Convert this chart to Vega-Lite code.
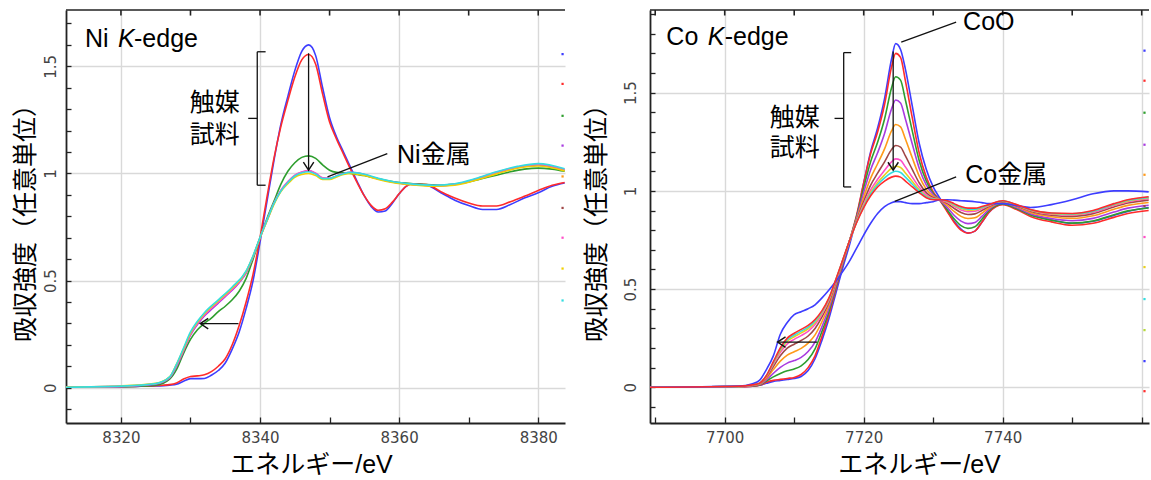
{
"$schema":"https://vega.github.io/schema/vega-lite/v6.json",
"padding":{"left":13,"top":9,"right":0,"bottom":0},
"spacing":18,
"config":{"view":{"stroke":null},
"axis":{"domainColor":"#222","domainWidth":1.8,"tickColor":"#222","tickWidth":1.3,"gridColor":"#d9d9d9","gridWidth":1.4,"labelFont":"DejaVu Sans","labelFontSize":15,"labelColor":"#444","labelOverlap":false,"titleFont":"Liberation Sans, Noto Sans CJK JP","titleFontSize":25,"titleFontWeight":"normal","titleColor":"#000"}},
"datasets":{
"ni":[
{"s":"n1","x":8312,"y":0.002},{"s":"n1","x":8318,"y":0.004},{"s":"n1","x":8322,"y":0.006},{"s":"n1","x":8325,"y":0.008},{"s":"n1","x":8327,"y":0.012},{"s":"n1","x":8328,"y":0.016},{"s":"n1","x":8329,"y":0.03},{"s":"n1","x":8330,"y":0.042},{"s":"n1","x":8331,"y":0.042},{"s":"n1","x":8332,"y":0.043},{"s":"n1","x":8333,"y":0.058},{"s":"n1","x":8334,"y":0.08},{"s":"n1","x":8335,"y":0.115},{"s":"n1","x":8336,"y":0.18},{"s":"n1","x":8337,"y":0.26},{"s":"n1","x":8338,"y":0.37},{"s":"n1","x":8339,"y":0.5},{"s":"n1","x":8340,"y":0.68},{"s":"n1","x":8341,"y":0.87},{"s":"n1","x":8342,"y":1.06},{"s":"n1","x":8343,"y":1.23},{"s":"n1","x":8344,"y":1.36},{"s":"n1","x":8345,"y":1.48},{"s":"n1","x":8346,"y":1.57},{"s":"n1","x":8347,"y":1.6},{"s":"n1","x":8348,"y":1.55},{"s":"n1","x":8349,"y":1.4},{"s":"n1","x":8350,"y":1.26},{"s":"n1","x":8351,"y":1.17},{"s":"n1","x":8352,"y":1.1},{"s":"n1","x":8353,"y":1.03},{"s":"n1","x":8354,"y":0.96},{"s":"n1","x":8355,"y":0.895},{"s":"n1","x":8356,"y":0.845},{"s":"n1","x":8357,"y":0.82},{"s":"n1","x":8358,"y":0.825},{"s":"n1","x":8359,"y":0.86},{"s":"n1","x":8360,"y":0.905},{"s":"n1","x":8361,"y":0.94},{"s":"n1","x":8362,"y":0.952},{"s":"n1","x":8364,"y":0.945},{"s":"n1","x":8366,"y":0.91},{"s":"n1","x":8368,"y":0.875},{"s":"n1","x":8370,"y":0.85},{"s":"n1","x":8372,"y":0.832},{"s":"n1","x":8374,"y":0.832},{"s":"n1","x":8376,"y":0.855},{"s":"n1","x":8378,"y":0.885},{"s":"n1","x":8380,"y":0.91},{"s":"n1","x":8382,"y":0.94},{"s":"n1","x":8383.8,"y":0.955},
{"s":"n2","x":8312,"y":0.002},{"s":"n2","x":8318,"y":0.004},{"s":"n2","x":8322,"y":0.006},{"s":"n2","x":8325,"y":0.009},{"s":"n2","x":8327,"y":0.014},{"s":"n2","x":8328,"y":0.022},{"s":"n2","x":8329,"y":0.04},{"s":"n2","x":8330,"y":0.052},{"s":"n2","x":8331,"y":0.055},{"s":"n2","x":8332,"y":0.06},{"s":"n2","x":8333,"y":0.075},{"s":"n2","x":8334,"y":0.1},{"s":"n2","x":8335,"y":0.135},{"s":"n2","x":8336,"y":0.2},{"s":"n2","x":8337,"y":0.29},{"s":"n2","x":8338,"y":0.4},{"s":"n2","x":8339,"y":0.53},{"s":"n2","x":8340,"y":0.7},{"s":"n2","x":8341,"y":0.89},{"s":"n2","x":8342,"y":1.07},{"s":"n2","x":8343,"y":1.22},{"s":"n2","x":8344,"y":1.34},{"s":"n2","x":8345,"y":1.45},{"s":"n2","x":8346,"y":1.53},{"s":"n2","x":8347,"y":1.555},{"s":"n2","x":8348,"y":1.51},{"s":"n2","x":8349,"y":1.37},{"s":"n2","x":8350,"y":1.24},{"s":"n2","x":8351,"y":1.16},{"s":"n2","x":8352,"y":1.09},{"s":"n2","x":8353,"y":1.02},{"s":"n2","x":8354,"y":0.955},{"s":"n2","x":8355,"y":0.895},{"s":"n2","x":8356,"y":0.85},{"s":"n2","x":8357,"y":0.828},{"s":"n2","x":8358,"y":0.835},{"s":"n2","x":8359,"y":0.865},{"s":"n2","x":8360,"y":0.905},{"s":"n2","x":8361,"y":0.94},{"s":"n2","x":8362,"y":0.952},{"s":"n2","x":8364,"y":0.948},{"s":"n2","x":8366,"y":0.915},{"s":"n2","x":8368,"y":0.885},{"s":"n2","x":8370,"y":0.862},{"s":"n2","x":8372,"y":0.848},{"s":"n2","x":8374,"y":0.848},{"s":"n2","x":8376,"y":0.868},{"s":"n2","x":8378,"y":0.893},{"s":"n2","x":8380,"y":0.92},{"s":"n2","x":8382,"y":0.945},{"s":"n2","x":8383.8,"y":0.958},
{"s":"n3","x":8312,"y":0.002},{"s":"n3","x":8318,"y":0.004},{"s":"n3","x":8322,"y":0.006},{"s":"n3","x":8325,"y":0.012},{"s":"n3","x":8327,"y":0.04},{"s":"n3","x":8328,"y":0.085},{"s":"n3","x":8329,"y":0.16},{"s":"n3","x":8330,"y":0.225},{"s":"n3","x":8331,"y":0.27},{"s":"n3","x":8332,"y":0.3},{"s":"n3","x":8333,"y":0.325},{"s":"n3","x":8334,"y":0.355},{"s":"n3","x":8335,"y":0.38},{"s":"n3","x":8336,"y":0.41},{"s":"n3","x":8337,"y":0.45},{"s":"n3","x":8338,"y":0.51},{"s":"n3","x":8339,"y":0.6},{"s":"n3","x":8340,"y":0.7},{"s":"n3","x":8341,"y":0.79},{"s":"n3","x":8342,"y":0.87},{"s":"n3","x":8343,"y":0.95},{"s":"n3","x":8344,"y":1.01},{"s":"n3","x":8345,"y":1.05},{"s":"n3","x":8346,"y":1.075},{"s":"n3","x":8347,"y":1.082},{"s":"n3","x":8348,"y":1.07},{"s":"n3","x":8349,"y":1.04},{"s":"n3","x":8350,"y":1.015},{"s":"n3","x":8351,"y":1.005},{"s":"n3","x":8352,"y":1.003},{"s":"n3","x":8353,"y":1.0},{"s":"n3","x":8354,"y":0.995},{"s":"n3","x":8355,"y":0.99},{"s":"n3","x":8356,"y":0.982},{"s":"n3","x":8357,"y":0.975},{"s":"n3","x":8358,"y":0.968},{"s":"n3","x":8359,"y":0.962},{"s":"n3","x":8360,"y":0.958},{"s":"n3","x":8361,"y":0.955},{"s":"n3","x":8362,"y":0.952},{"s":"n3","x":8364,"y":0.948},{"s":"n3","x":8366,"y":0.946},{"s":"n3","x":8368,"y":0.95},{"s":"n3","x":8370,"y":0.96},{"s":"n3","x":8372,"y":0.976},{"s":"n3","x":8374,"y":0.992},{"s":"n3","x":8376,"y":1.008},{"s":"n3","x":8378,"y":1.02},{"s":"n3","x":8380,"y":1.025},{"s":"n3","x":8382,"y":1.02},{"s":"n3","x":8383.8,"y":1.01},
{"s":"n4","x":8312,"y":0.002},{"s":"n4","x":8318,"y":0.005},{"s":"n4","x":8322,"y":0.008},{"s":"n4","x":8325,"y":0.016},{"s":"n4","x":8327,"y":0.045},{"s":"n4","x":8328,"y":0.1},{"s":"n4","x":8329,"y":0.17},{"s":"n4","x":8330,"y":0.245},{"s":"n4","x":8331,"y":0.295},{"s":"n4","x":8332,"y":0.335},{"s":"n4","x":8333,"y":0.365},{"s":"n4","x":8334,"y":0.395},{"s":"n4","x":8335,"y":0.425},{"s":"n4","x":8336,"y":0.455},{"s":"n4","x":8337,"y":0.49},{"s":"n4","x":8338,"y":0.535},{"s":"n4","x":8339,"y":0.61},{"s":"n4","x":8340,"y":0.7},{"s":"n4","x":8341,"y":0.78},{"s":"n4","x":8342,"y":0.86},{"s":"n4","x":8343,"y":0.92},{"s":"n4","x":8344,"y":0.96},{"s":"n4","x":8345,"y":0.99},{"s":"n4","x":8346,"y":1.005},{"s":"n4","x":8347,"y":1.012},{"s":"n4","x":8348,"y":1.0},{"s":"n4","x":8349,"y":0.978},{"s":"n4","x":8350,"y":0.976},{"s":"n4","x":8351,"y":0.988},{"s":"n4","x":8352,"y":1.0},{"s":"n4","x":8353,"y":1.005},{"s":"n4","x":8354,"y":1.003},{"s":"n4","x":8355,"y":0.995},{"s":"n4","x":8356,"y":0.985},{"s":"n4","x":8357,"y":0.975},{"s":"n4","x":8358,"y":0.967},{"s":"n4","x":8359,"y":0.96},{"s":"n4","x":8360,"y":0.955},{"s":"n4","x":8361,"y":0.95},{"s":"n4","x":8362,"y":0.948},{"s":"n4","x":8364,"y":0.944},{"s":"n4","x":8366,"y":0.942},{"s":"n4","x":8368,"y":0.948},{"s":"n4","x":8370,"y":0.962},{"s":"n4","x":8372,"y":0.982},{"s":"n4","x":8374,"y":1.003},{"s":"n4","x":8376,"y":1.022},{"s":"n4","x":8378,"y":1.035},{"s":"n4","x":8380,"y":1.04},{"s":"n4","x":8382,"y":1.03},{"s":"n4","x":8383.8,"y":1.015},
{"s":"n7","x":8312,"y":0.002},{"s":"n7","x":8320,"y":0.006},{"s":"n7","x":8325,"y":0.018},{"s":"n7","x":8327,"y":0.048},{"s":"n7","x":8328,"y":0.105},{"s":"n7","x":8329,"y":0.175},{"s":"n7","x":8330,"y":0.25},{"s":"n7","x":8331,"y":0.3},{"s":"n7","x":8332,"y":0.34},{"s":"n7","x":8334,"y":0.4},{"s":"n7","x":8336,"y":0.46},{"s":"n7","x":8338,"y":0.54},{"s":"n7","x":8339,"y":0.612},{"s":"n7","x":8340,"y":0.7},{"s":"n7","x":8341,"y":0.782},{"s":"n7","x":8342,"y":0.862},{"s":"n7","x":8343,"y":0.922},{"s":"n7","x":8344,"y":0.962},{"s":"n7","x":8345,"y":0.992},{"s":"n7","x":8346,"y":1.007},{"s":"n7","x":8347,"y":1.013},{"s":"n7","x":8348,"y":1.001},{"s":"n7","x":8349,"y":0.98},{"s":"n7","x":8350,"y":0.977},{"s":"n7","x":8351,"y":0.988},{"s":"n7","x":8352,"y":0.999},{"s":"n7","x":8353,"y":1.004},{"s":"n7","x":8355,"y":0.994},{"s":"n7","x":8357,"y":0.974},{"s":"n7","x":8359,"y":0.96},{"s":"n7","x":8362,"y":0.949},{"s":"n7","x":8365,"y":0.944},{"s":"n7","x":8368,"y":0.95},{"s":"n7","x":8371,"y":0.974},{"s":"n7","x":8374,"y":1.005},{"s":"n7","x":8377,"y":1.03},{"s":"n7","x":8380,"y":1.042},{"s":"n7","x":8383.8,"y":1.018},
{"s":"n8","x":8312,"y":0.003},{"s":"n8","x":8320,"y":0.008},{"s":"n8","x":8325,"y":0.02},{"s":"n8","x":8327,"y":0.05},{"s":"n8","x":8328,"y":0.11},{"s":"n8","x":8329,"y":0.18},{"s":"n8","x":8330,"y":0.255},{"s":"n8","x":8331,"y":0.305},{"s":"n8","x":8332,"y":0.345},{"s":"n8","x":8334,"y":0.405},{"s":"n8","x":8336,"y":0.465},{"s":"n8","x":8338,"y":0.542},{"s":"n8","x":8339,"y":0.614},{"s":"n8","x":8340,"y":0.7},{"s":"n8","x":8341,"y":0.778},{"s":"n8","x":8342,"y":0.855},{"s":"n8","x":8343,"y":0.915},{"s":"n8","x":8344,"y":0.952},{"s":"n8","x":8345,"y":0.982},{"s":"n8","x":8346,"y":0.995},{"s":"n8","x":8347,"y":1.0},{"s":"n8","x":8348,"y":0.99},{"s":"n8","x":8349,"y":0.972},{"s":"n8","x":8350,"y":0.972},{"s":"n8","x":8351,"y":0.984},{"s":"n8","x":8352,"y":0.995},{"s":"n8","x":8353,"y":1.0},{"s":"n8","x":8355,"y":0.99},{"s":"n8","x":8357,"y":0.972},{"s":"n8","x":8359,"y":0.958},{"s":"n8","x":8362,"y":0.946},{"s":"n8","x":8365,"y":0.94},{"s":"n8","x":8368,"y":0.945},{"s":"n8","x":8371,"y":0.968},{"s":"n8","x":8374,"y":0.998},{"s":"n8","x":8377,"y":1.024},{"s":"n8","x":8380,"y":1.035},{"s":"n8","x":8383.8,"y":1.012},
{"s":"n9","x":8312,"y":0.002},{"s":"n9","x":8320,"y":0.007},{"s":"n9","x":8325,"y":0.019},{"s":"n9","x":8327,"y":0.05},{"s":"n9","x":8328,"y":0.11},{"s":"n9","x":8329,"y":0.185},{"s":"n9","x":8330,"y":0.26},{"s":"n9","x":8331,"y":0.31},{"s":"n9","x":8332,"y":0.35},{"s":"n9","x":8334,"y":0.41},{"s":"n9","x":8336,"y":0.47},{"s":"n9","x":8338,"y":0.545},{"s":"n9","x":8339,"y":0.616},{"s":"n9","x":8340,"y":0.702},{"s":"n9","x":8341,"y":0.782},{"s":"n9","x":8342,"y":0.86},{"s":"n9","x":8343,"y":0.918},{"s":"n9","x":8344,"y":0.958},{"s":"n9","x":8345,"y":0.988},{"s":"n9","x":8346,"y":1.003},{"s":"n9","x":8347,"y":1.008},{"s":"n9","x":8348,"y":0.997},{"s":"n9","x":8349,"y":0.976},{"s":"n9","x":8350,"y":0.976},{"s":"n9","x":8351,"y":0.988},{"s":"n9","x":8352,"y":0.999},{"s":"n9","x":8353,"y":1.005},{"s":"n9","x":8355,"y":0.996},{"s":"n9","x":8357,"y":0.977},{"s":"n9","x":8359,"y":0.962},{"s":"n9","x":8362,"y":0.95},{"s":"n9","x":8365,"y":0.945},{"s":"n9","x":8368,"y":0.952},{"s":"n9","x":8371,"y":0.976},{"s":"n9","x":8374,"y":1.008},{"s":"n9","x":8377,"y":1.033},{"s":"n9","x":8380,"y":1.046},{"s":"n9","x":8383.8,"y":1.022}
],
"niDots":[{"s":"n1","x":8383.5,"y":1.557},{"s":"n2","x":8383.5,"y":1.418},{"s":"n3","x":8383.5,"y":1.269},{"s":"n4","x":8383.5,"y":1.13},{"s":"n5","x":8383.5,"y":0.986},{"s":"n6","x":8383.5,"y":0.839},{"s":"n7","x":8383.5,"y":0.7},{"s":"n8","x":8383.5,"y":0.556},{"s":"n9","x":8383.5,"y":0.407}],
"niRules":[{"x":8339.6,"y":1.568,"x2":8339.6,"y2":0.945},{"x":8339.6,"y":1.568,"x2":8340.8,"y2":1.568},{"x":8339.6,"y":0.945,"x2":8340.8,"y2":0.945},{"x":8338.3,"y":1.257,"x2":8339.6,"y2":1.257},{"x":8346.98,"y":1.561,"x2":8346.98,"y2":1.02},{"x":8358.3,"y":1.093,"x2":8349.7,"y2":0.984},{"x":8336.9,"y":0.299,"x2":8331.5,"y2":0.299}],
"niFrame":[{"x":8312.1,"x2":8383.85,"y":1.763,"y2":1.763},{"x":8320,"x2":8320,"y":1.763,"y2":1.737},{"x":8330,"x2":8330,"y":1.763,"y2":1.737},{"x":8340,"x2":8340,"y":1.763,"y2":1.737},{"x":8350,"x2":8350,"y":1.763,"y2":1.737},{"x":8360,"x2":8360,"y":1.763,"y2":1.737},{"x":8370,"x2":8370,"y":1.763,"y2":1.737},{"x":8380,"x2":8380,"y":1.763,"y2":1.737}],
"niHeads":[{"x":8346.98,"y":1.015,"d":"down"},{"x":8331.4,"y":0.299,"d":"left"}],
"niText":[{"t":"触媒","x":8329.9,"y":1.327,"k":"a"},{"t":"試料","x":8329.9,"y":1.179,"k":"a"},{"t":"Ni金属","x":8359.7,"y":1.086,"k":"a"},{"t":"Ni","x":8314.83,"y":1.592,"k":"t"},{"t":"-edge","x":8321.88,"y":1.592,"k":"t"},{"t":"K","x":8319.58,"y":1.592,"k":"i"}],
"co":[
{"s":"c01","x":7689,"y":0},{"s":"c01","x":7702,"y":0.003},{"s":"c01","x":7704,"y":0.005},{"s":"c01","x":7705,"y":0.01},{"s":"c01","x":7706,"y":0.02},{"s":"c01","x":7707,"y":0.03},{"s":"c01","x":7708,"y":0.035},{"s":"c01","x":7709,"y":0.04},{"s":"c01","x":7710,"y":0.045},{"s":"c01","x":7711,"y":0.055},{"s":"c01","x":7712,"y":0.085},{"s":"c01","x":7713,"y":0.145},{"s":"c01","x":7714,"y":0.24},{"s":"c01","x":7715,"y":0.35},{"s":"c01","x":7716,"y":0.48},{"s":"c01","x":7717,"y":0.61},{"s":"c01","x":7718,"y":0.73},{"s":"c01","x":7719,"y":0.87},{"s":"c01","x":7720,"y":1.04},{"s":"c01","x":7721,"y":1.2},{"s":"c01","x":7722,"y":1.32},{"s":"c01","x":7723,"y":1.47},{"s":"c01","x":7724,"y":1.67},{"s":"c01","x":7724.6,"y":1.75},{"s":"c01","x":7725.3,"y":1.72},{"s":"c01","x":7726,"y":1.62},{"s":"c01","x":7727,"y":1.43},{"s":"c01","x":7728,"y":1.24},{"s":"c01","x":7729,"y":1.11},{"s":"c01","x":7730,"y":1.02},{"s":"c01","x":7731,"y":0.96},{"s":"c01","x":7732,"y":0.9},{"s":"c01","x":7733,"y":0.845},{"s":"c01","x":7734,"y":0.805},{"s":"c01","x":7735,"y":0.785},{"s":"c01","x":7736,"y":0.795},{"s":"c01","x":7737,"y":0.84},{"s":"c01","x":7738,"y":0.89},{"s":"c01","x":7740,"y":0.935},{"s":"c01","x":7742,"y":0.91},{"s":"c01","x":7744,"y":0.88},{"s":"c01","x":7747,"y":0.852},{"s":"c01","x":7750,"y":0.835},{"s":"c01","x":7753,"y":0.845},{"s":"c01","x":7756,"y":0.875},{"s":"c01","x":7758,"y":0.895},{"s":"c01","x":7761,"y":0.915},
{"s":"c02","x":7689,"y":0},{"s":"c02","x":7702,"y":0.003},{"s":"c02","x":7704,"y":0.006},{"s":"c02","x":7705,"y":0.01},{"s":"c02","x":7706,"y":0.025},{"s":"c02","x":7707,"y":0.035},{"s":"c02","x":7708,"y":0.04},{"s":"c02","x":7709,"y":0.045},{"s":"c02","x":7710,"y":0.05},{"s":"c02","x":7711,"y":0.065},{"s":"c02","x":7712,"y":0.1},{"s":"c02","x":7713,"y":0.16},{"s":"c02","x":7714,"y":0.26},{"s":"c02","x":7715,"y":0.37},{"s":"c02","x":7716,"y":0.5},{"s":"c02","x":7717,"y":0.63},{"s":"c02","x":7718,"y":0.75},{"s":"c02","x":7719,"y":0.88},{"s":"c02","x":7720,"y":1.04},{"s":"c02","x":7721,"y":1.19},{"s":"c02","x":7722,"y":1.3},{"s":"c02","x":7723,"y":1.44},{"s":"c02","x":7724,"y":1.63},{"s":"c02","x":7724.6,"y":1.7},{"s":"c02","x":7725.3,"y":1.68},{"s":"c02","x":7726,"y":1.56},{"s":"c02","x":7727,"y":1.37},{"s":"c02","x":7728,"y":1.19},{"s":"c02","x":7729,"y":1.07},{"s":"c02","x":7730,"y":0.995},{"s":"c02","x":7731,"y":0.95},{"s":"c02","x":7732,"y":0.895},{"s":"c02","x":7733,"y":0.84},{"s":"c02","x":7734,"y":0.8},{"s":"c02","x":7735,"y":0.785},{"s":"c02","x":7736,"y":0.795},{"s":"c02","x":7737,"y":0.84},{"s":"c02","x":7738,"y":0.89},{"s":"c02","x":7740,"y":0.93},{"s":"c02","x":7742,"y":0.905},{"s":"c02","x":7744,"y":0.87},{"s":"c02","x":7747,"y":0.842},{"s":"c02","x":7750,"y":0.825},{"s":"c02","x":7753,"y":0.835},{"s":"c02","x":7756,"y":0.865},{"s":"c02","x":7758,"y":0.885},{"s":"c02","x":7761,"y":0.9},
{"s":"c03","x":7689,"y":0},{"s":"c03","x":7702,"y":0.004},{"s":"c03","x":7704,"y":0.007},{"s":"c03","x":7705,"y":0.012},{"s":"c03","x":7706,"y":0.032},{"s":"c03","x":7707,"y":0.053},{"s":"c03","x":7708,"y":0.07},{"s":"c03","x":7709,"y":0.084},{"s":"c03","x":7710,"y":0.093},{"s":"c03","x":7711,"y":0.109},{"s":"c03","x":7712,"y":0.141},{"s":"c03","x":7713,"y":0.195},{"s":"c03","x":7714,"y":0.285},{"s":"c03","x":7715,"y":0.386},{"s":"c03","x":7716,"y":0.51},{"s":"c03","x":7717,"y":0.634},{"s":"c03","x":7718,"y":0.75},{"s":"c03","x":7719,"y":0.872},{"s":"c03","x":7720,"y":1.016},{"s":"c03","x":7721,"y":1.149},{"s":"c03","x":7722,"y":1.247},{"s":"c03","x":7723,"y":1.366},{"s":"c03","x":7724,"y":1.524},{"s":"c03","x":7724.6,"y":1.581},{"s":"c03","x":7725.3,"y":1.564},{"s":"c03","x":7726,"y":1.463},{"s":"c03","x":7727,"y":1.303},{"s":"c03","x":7728,"y":1.152},{"s":"c03","x":7729,"y":1.05},{"s":"c03","x":7730,"y":0.987},{"s":"c03","x":7731,"y":0.951},{"s":"c03","x":7732,"y":0.905},{"s":"c03","x":7733,"y":0.858},{"s":"c03","x":7734,"y":0.823},{"s":"c03","x":7735,"y":0.809},{"s":"c03","x":7736,"y":0.817},{"s":"c03","x":7737,"y":0.855},{"s":"c03","x":7738,"y":0.898},{"s":"c03","x":7740,"y":0.934},{"s":"c03","x":7742,"y":0.91},{"s":"c03","x":7744,"y":0.877},{"s":"c03","x":7747,"y":0.851},{"s":"c03","x":7750,"y":0.836},{"s":"c03","x":7753,"y":0.847},{"s":"c03","x":7756,"y":0.878},{"s":"c03","x":7758,"y":0.898},{"s":"c03","x":7761,"y":0.913},
{"s":"c04","x":7689,"y":0},{"s":"c04","x":7702,"y":0.004},{"s":"c04","x":7704,"y":0.008},{"s":"c04","x":7705,"y":0.014},{"s":"c04","x":7706,"y":0.038},{"s":"c04","x":7707,"y":0.071},{"s":"c04","x":7708,"y":0.101},{"s":"c04","x":7709,"y":0.123},{"s":"c04","x":7710,"y":0.136},{"s":"c04","x":7711,"y":0.152},{"s":"c04","x":7712,"y":0.182},{"s":"c04","x":7713,"y":0.23},{"s":"c04","x":7714,"y":0.309},{"s":"c04","x":7715,"y":0.402},{"s":"c04","x":7716,"y":0.519},{"s":"c04","x":7717,"y":0.638},{"s":"c04","x":7718,"y":0.75},{"s":"c04","x":7719,"y":0.865},{"s":"c04","x":7720,"y":0.993},{"s":"c04","x":7721,"y":1.108},{"s":"c04","x":7722,"y":1.194},{"s":"c04","x":7723,"y":1.292},{"s":"c04","x":7724,"y":1.417},{"s":"c04","x":7724.6,"y":1.463},{"s":"c04","x":7725.3,"y":1.448},{"s":"c04","x":7726,"y":1.366},{"s":"c04","x":7727,"y":1.237},{"s":"c04","x":7728,"y":1.114},{"s":"c04","x":7729,"y":1.03},{"s":"c04","x":7730,"y":0.98},{"s":"c04","x":7731,"y":0.952},{"s":"c04","x":7732,"y":0.916},{"s":"c04","x":7733,"y":0.876},{"s":"c04","x":7734,"y":0.846},{"s":"c04","x":7735,"y":0.833},{"s":"c04","x":7736,"y":0.839},{"s":"c04","x":7737,"y":0.87},{"s":"c04","x":7738,"y":0.905},{"s":"c04","x":7740,"y":0.938},{"s":"c04","x":7742,"y":0.915},{"s":"c04","x":7744,"y":0.883},{"s":"c04","x":7747,"y":0.859},{"s":"c04","x":7750,"y":0.848},{"s":"c04","x":7753,"y":0.86},{"s":"c04","x":7756,"y":0.892},{"s":"c04","x":7758,"y":0.912},{"s":"c04","x":7761,"y":0.927},
{"s":"c05","x":7689,"y":0},{"s":"c05","x":7702,"y":0.004},{"s":"c05","x":7704,"y":0.009},{"s":"c05","x":7705,"y":0.016},{"s":"c05","x":7706,"y":0.045},{"s":"c05","x":7707,"y":0.09},{"s":"c05","x":7708,"y":0.133},{"s":"c05","x":7709,"y":0.164},{"s":"c05","x":7710,"y":0.181},{"s":"c05","x":7711,"y":0.198},{"s":"c05","x":7712,"y":0.225},{"s":"c05","x":7713,"y":0.267},{"s":"c05","x":7714,"y":0.335},{"s":"c05","x":7715,"y":0.419},{"s":"c05","x":7716,"y":0.529},{"s":"c05","x":7717,"y":0.642},{"s":"c05","x":7718,"y":0.75},{"s":"c05","x":7719,"y":0.857},{"s":"c05","x":7720,"y":0.968},{"s":"c05","x":7721,"y":1.065},{"s":"c05","x":7722,"y":1.138},{"s":"c05","x":7723,"y":1.214},{"s":"c05","x":7724,"y":1.305},{"s":"c05","x":7724.6,"y":1.338},{"s":"c05","x":7725.3,"y":1.326},{"s":"c05","x":7726,"y":1.264},{"s":"c05","x":7727,"y":1.167},{"s":"c05","x":7728,"y":1.074},{"s":"c05","x":7729,"y":1.009},{"s":"c05","x":7730,"y":0.972},{"s":"c05","x":7731,"y":0.953},{"s":"c05","x":7732,"y":0.927},{"s":"c05","x":7733,"y":0.895},{"s":"c05","x":7734,"y":0.87},{"s":"c05","x":7735,"y":0.859},{"s":"c05","x":7736,"y":0.863},{"s":"c05","x":7737,"y":0.886},{"s":"c05","x":7738,"y":0.913},{"s":"c05","x":7740,"y":0.942},{"s":"c05","x":7742,"y":0.92},{"s":"c05","x":7744,"y":0.89},{"s":"c05","x":7747,"y":0.868},{"s":"c05","x":7750,"y":0.86},{"s":"c05","x":7753,"y":0.873},{"s":"c05","x":7756,"y":0.906},{"s":"c05","x":7758,"y":0.926},{"s":"c05","x":7761,"y":0.941},
{"s":"c06","x":7689,"y":0},{"s":"c06","x":7702,"y":0.004},{"s":"c06","x":7704,"y":0.011},{"s":"c06","x":7705,"y":0.018},{"s":"c06","x":7706,"y":0.051},{"s":"c06","x":7707,"y":0.106},{"s":"c06","x":7708,"y":0.16},{"s":"c06","x":7709,"y":0.199},{"s":"c06","x":7710,"y":0.219},{"s":"c06","x":7711,"y":0.238},{"s":"c06","x":7712,"y":0.261},{"s":"c06","x":7713,"y":0.299},{"s":"c06","x":7714,"y":0.358},{"s":"c06","x":7715,"y":0.434},{"s":"c06","x":7716,"y":0.538},{"s":"c06","x":7717,"y":0.645},{"s":"c06","x":7718,"y":0.75},{"s":"c06","x":7719,"y":0.85},{"s":"c06","x":7720,"y":0.946},{"s":"c06","x":7721,"y":1.029},{"s":"c06","x":7722,"y":1.09},{"s":"c06","x":7723,"y":1.148},{"s":"c06","x":7724,"y":1.21},{"s":"c06","x":7724.6,"y":1.231},{"s":"c06","x":7725.3,"y":1.223},{"s":"c06","x":7726,"y":1.178},{"s":"c06","x":7727,"y":1.108},{"s":"c06","x":7728,"y":1.04},{"s":"c06","x":7729,"y":0.991},{"s":"c06","x":7730,"y":0.965},{"s":"c06","x":7731,"y":0.954},{"s":"c06","x":7732,"y":0.936},{"s":"c06","x":7733,"y":0.911},{"s":"c06","x":7734,"y":0.89},{"s":"c06","x":7735,"y":0.88},{"s":"c06","x":7736,"y":0.883},{"s":"c06","x":7737,"y":0.9},{"s":"c06","x":7738,"y":0.92},{"s":"c06","x":7740,"y":0.945},{"s":"c06","x":7742,"y":0.924},{"s":"c06","x":7744,"y":0.896},{"s":"c06","x":7747,"y":0.876},{"s":"c06","x":7750,"y":0.87},{"s":"c06","x":7753,"y":0.884},{"s":"c06","x":7756,"y":0.918},{"s":"c06","x":7758,"y":0.938},{"s":"c06","x":7761,"y":0.953},
{"s":"c07","x":7689,"y":0},{"s":"c07","x":7702,"y":0.004},{"s":"c07","x":7704,"y":0.011},{"s":"c07","x":7705,"y":0.019},{"s":"c07","x":7706,"y":0.055},{"s":"c07","x":7707,"y":0.117},{"s":"c07","x":7708,"y":0.178},{"s":"c07","x":7709,"y":0.221},{"s":"c07","x":7710,"y":0.244},{"s":"c07","x":7711,"y":0.263},{"s":"c07","x":7712,"y":0.285},{"s":"c07","x":7713,"y":0.319},{"s":"c07","x":7714,"y":0.372},{"s":"c07","x":7715,"y":0.443},{"s":"c07","x":7716,"y":0.543},{"s":"c07","x":7717,"y":0.647},{"s":"c07","x":7718,"y":0.75},{"s":"c07","x":7719,"y":0.846},{"s":"c07","x":7720,"y":0.933},{"s":"c07","x":7721,"y":1.005},{"s":"c07","x":7722,"y":1.059},{"s":"c07","x":7723,"y":1.105},{"s":"c07","x":7724,"y":1.148},{"s":"c07","x":7724.6,"y":1.163},{"s":"c07","x":7725.3,"y":1.156},{"s":"c07","x":7726,"y":1.122},{"s":"c07","x":7727,"y":1.069},{"s":"c07","x":7728,"y":1.018},{"s":"c07","x":7729,"y":0.98},{"s":"c07","x":7730,"y":0.961},{"s":"c07","x":7731,"y":0.954},{"s":"c07","x":7732,"y":0.942},{"s":"c07","x":7733,"y":0.922},{"s":"c07","x":7734,"y":0.903},{"s":"c07","x":7735,"y":0.894},{"s":"c07","x":7736,"y":0.896},{"s":"c07","x":7737,"y":0.909},{"s":"c07","x":7738,"y":0.924},{"s":"c07","x":7740,"y":0.947},{"s":"c07","x":7742,"y":0.927},{"s":"c07","x":7744,"y":0.9},{"s":"c07","x":7747,"y":0.881},{"s":"c07","x":7750,"y":0.877},{"s":"c07","x":7753,"y":0.891},{"s":"c07","x":7756,"y":0.925},{"s":"c07","x":7758,"y":0.945},{"s":"c07","x":7761,"y":0.96},
{"s":"c08","x":7689,"y":0},{"s":"c08","x":7702,"y":0.004},{"s":"c08","x":7704,"y":0.012},{"s":"c08","x":7705,"y":0.019},{"s":"c08","x":7706,"y":0.057},{"s":"c08","x":7707,"y":0.122},{"s":"c08","x":7708,"y":0.187},{"s":"c08","x":7709,"y":0.234},{"s":"c08","x":7710,"y":0.257},{"s":"c08","x":7711,"y":0.277},{"s":"c08","x":7712,"y":0.298},{"s":"c08","x":7713,"y":0.33},{"s":"c08","x":7714,"y":0.38},{"s":"c08","x":7715,"y":0.448},{"s":"c08","x":7716,"y":0.546},{"s":"c08","x":7717,"y":0.648},{"s":"c08","x":7718,"y":0.75},{"s":"c08","x":7719,"y":0.843},{"s":"c08","x":7720,"y":0.925},{"s":"c08","x":7721,"y":0.992},{"s":"c08","x":7722,"y":1.042},{"s":"c08","x":7723,"y":1.081},{"s":"c08","x":7724,"y":1.115},{"s":"c08","x":7724.6,"y":1.125},{"s":"c08","x":7725.3,"y":1.119},{"s":"c08","x":7726,"y":1.091},{"s":"c08","x":7727,"y":1.048},{"s":"c08","x":7728,"y":1.006},{"s":"c08","x":7729,"y":0.973},{"s":"c08","x":7730,"y":0.958},{"s":"c08","x":7731,"y":0.955},{"s":"c08","x":7732,"y":0.946},{"s":"c08","x":7733,"y":0.927},{"s":"c08","x":7734,"y":0.91},{"s":"c08","x":7735,"y":0.902},{"s":"c08","x":7736,"y":0.903},{"s":"c08","x":7737,"y":0.914},{"s":"c08","x":7738,"y":0.927},{"s":"c08","x":7740,"y":0.948},{"s":"c08","x":7742,"y":0.928},{"s":"c08","x":7744,"y":0.902},{"s":"c08","x":7747,"y":0.884},{"s":"c08","x":7750,"y":0.88},{"s":"c08","x":7753,"y":0.895},{"s":"c08","x":7756,"y":0.929},{"s":"c08","x":7758,"y":0.949},{"s":"c08","x":7761,"y":0.964},
{"s":"c09","x":7689,"y":0},{"s":"c09","x":7702,"y":0.004},{"s":"c09","x":7704,"y":0.012},{"s":"c09","x":7705,"y":0.02},{"s":"c09","x":7706,"y":0.059},{"s":"c09","x":7707,"y":0.126},{"s":"c09","x":7708,"y":0.194},{"s":"c09","x":7709,"y":0.242},{"s":"c09","x":7710,"y":0.266},{"s":"c09","x":7711,"y":0.286},{"s":"c09","x":7712,"y":0.306},{"s":"c09","x":7713,"y":0.338},{"s":"c09","x":7714,"y":0.385},{"s":"c09","x":7715,"y":0.452},{"s":"c09","x":7716,"y":0.548},{"s":"c09","x":7717,"y":0.649},{"s":"c09","x":7718,"y":0.75},{"s":"c09","x":7719,"y":0.842},{"s":"c09","x":7720,"y":0.92},{"s":"c09","x":7721,"y":0.984},{"s":"c09","x":7722,"y":1.031},{"s":"c09","x":7723,"y":1.066},{"s":"c09","x":7724,"y":1.092},{"s":"c09","x":7724.6,"y":1.1},{"s":"c09","x":7725.3,"y":1.094},{"s":"c09","x":7726,"y":1.07},{"s":"c09","x":7727,"y":1.034},{"s":"c09","x":7728,"y":0.998},{"s":"c09","x":7729,"y":0.969},{"s":"c09","x":7730,"y":0.957},{"s":"c09","x":7731,"y":0.955},{"s":"c09","x":7732,"y":0.948},{"s":"c09","x":7733,"y":0.931},{"s":"c09","x":7734,"y":0.915},{"s":"c09","x":7735,"y":0.907},{"s":"c09","x":7736,"y":0.907},{"s":"c09","x":7737,"y":0.917},{"s":"c09","x":7738,"y":0.928},{"s":"c09","x":7740,"y":0.949},{"s":"c09","x":7742,"y":0.929},{"s":"c09","x":7744,"y":0.904},{"s":"c09","x":7747,"y":0.886},{"s":"c09","x":7750,"y":0.883},{"s":"c09","x":7753,"y":0.897},{"s":"c09","x":7756,"y":0.932},{"s":"c09","x":7758,"y":0.952},{"s":"c09","x":7761,"y":0.967},
{"s":"c11","x":7689,"y":0},{"s":"c11","x":7702,"y":0.006},{"s":"c11","x":7704,"y":0.018},{"s":"c11","x":7705,"y":0.035},{"s":"c11","x":7706,"y":0.09},{"s":"c11","x":7707,"y":0.16},{"s":"c11","x":7708,"y":0.27},{"s":"c11","x":7709,"y":0.33},{"s":"c11","x":7710,"y":0.37},{"s":"c11","x":7711,"y":0.385},{"s":"c11","x":7712,"y":0.4},{"s":"c11","x":7713,"y":0.42},{"s":"c11","x":7714,"y":0.455},{"s":"c11","x":7715,"y":0.495},{"s":"c11","x":7716,"y":0.54},{"s":"c11","x":7717,"y":0.59},{"s":"c11","x":7718,"y":0.645},{"s":"c11","x":7719,"y":0.71},{"s":"c11","x":7720,"y":0.775},{"s":"c11","x":7721,"y":0.835},{"s":"c11","x":7722,"y":0.885},{"s":"c11","x":7723,"y":0.92},{"s":"c11","x":7724,"y":0.94},{"s":"c11","x":7724.6,"y":0.945},{"s":"c11","x":7725.3,"y":0.945},{"s":"c11","x":7726,"y":0.94},{"s":"c11","x":7727,"y":0.935},{"s":"c11","x":7728,"y":0.935},{"s":"c11","x":7729,"y":0.94},{"s":"c11","x":7730,"y":0.945},{"s":"c11","x":7731,"y":0.955},{"s":"c11","x":7732,"y":0.955},{"s":"c11","x":7733,"y":0.953},{"s":"c11","x":7734,"y":0.95},{"s":"c11","x":7735,"y":0.948},{"s":"c11","x":7736,"y":0.945},{"s":"c11","x":7737,"y":0.94},{"s":"c11","x":7738,"y":0.935},{"s":"c11","x":7740,"y":0.935},{"s":"c11","x":7742,"y":0.925},{"s":"c11","x":7744,"y":0.915},{"s":"c11","x":7747,"y":0.93},{"s":"c11","x":7750,"y":0.955},{"s":"c11","x":7753,"y":0.985},{"s":"c11","x":7756,"y":1.0},{"s":"c11","x":7758,"y":1.0},{"s":"c11","x":7761,"y":0.995},
{"s":"c12","x":7689,"y":0},{"s":"c12","x":7702,"y":0.005},{"s":"c12","x":7704,"y":0.012},{"s":"c12","x":7705,"y":0.02},{"s":"c12","x":7706,"y":0.06},{"s":"c12","x":7707,"y":0.13},{"s":"c12","x":7708,"y":0.2},{"s":"c12","x":7709,"y":0.25},{"s":"c12","x":7710,"y":0.275},{"s":"c12","x":7711,"y":0.295},{"s":"c12","x":7712,"y":0.315},{"s":"c12","x":7713,"y":0.345},{"s":"c12","x":7714,"y":0.39},{"s":"c12","x":7715,"y":0.455},{"s":"c12","x":7716,"y":0.55},{"s":"c12","x":7717,"y":0.65},{"s":"c12","x":7718,"y":0.75},{"s":"c12","x":7719,"y":0.84},{"s":"c12","x":7720,"y":0.915},{"s":"c12","x":7721,"y":0.975},{"s":"c12","x":7722,"y":1.02},{"s":"c12","x":7723,"y":1.05},{"s":"c12","x":7724,"y":1.07},{"s":"c12","x":7724.6,"y":1.075},{"s":"c12","x":7725.3,"y":1.07},{"s":"c12","x":7726,"y":1.05},{"s":"c12","x":7727,"y":1.02},{"s":"c12","x":7728,"y":0.99},{"s":"c12","x":7729,"y":0.965},{"s":"c12","x":7730,"y":0.955},{"s":"c12","x":7731,"y":0.955},{"s":"c12","x":7732,"y":0.95},{"s":"c12","x":7733,"y":0.935},{"s":"c12","x":7734,"y":0.92},{"s":"c12","x":7735,"y":0.912},{"s":"c12","x":7736,"y":0.912},{"s":"c12","x":7737,"y":0.92},{"s":"c12","x":7738,"y":0.93},{"s":"c12","x":7740,"y":0.95},{"s":"c12","x":7742,"y":0.93},{"s":"c12","x":7744,"y":0.905},{"s":"c12","x":7747,"y":0.887},{"s":"c12","x":7750,"y":0.885},{"s":"c12","x":7753,"y":0.9},{"s":"c12","x":7756,"y":0.935},{"s":"c12","x":7758,"y":0.955},{"s":"c12","x":7761,"y":0.97}
],
"coDots":[{"s":"c01","x":7760.4,"y":1.714},{"s":"c02","x":7760.4,"y":1.561},{"s":"c03","x":7760.4,"y":1.398},{"s":"c04","x":7760.4,"y":1.235},{"s":"c05","x":7760.4,"y":1.082},{"s":"c06","x":7760.4,"y":0.923},{"s":"c07","x":7760.4,"y":0.765},{"s":"c08","x":7760.4,"y":0.612},{"s":"c09","x":7760.4,"y":0.449},{"s":"c10","x":7760.4,"y":0.291},{"s":"c11","x":7760.4,"y":0.133},{"s":"c12","x":7760.4,"y":-0.02}],
"coRules":[{"x":7717.12,"y":1.704,"x2":7717.12,"y2":1.02},{"x":7717.12,"y":1.704,"x2":7718.2,"y2":1.704},{"x":7717.12,"y":1.02,"x2":7718.2,"y2":1.02},{"x":7715.8,"y":1.369,"x2":7717.12,"y2":1.369},{"x":7724.24,"y":1.71,"x2":7724.24,"y2":1.11},{"x":7733.3,"y":1.859,"x2":7725.4,"y2":1.757},{"x":7733.3,"y":1.071,"x2":7724.46,"y2":0.947},{"x":7713.3,"y":0.23,"x2":7707.7,"y2":0.23}],
"coFrame":[{"x":7689.25,"x2":7761.05,"y":1.921,"y2":1.921},{"x":7690,"x2":7690,"y":1.921,"y2":1.893},{"x":7700,"x2":7700,"y":1.921,"y2":1.893},{"x":7710,"x2":7710,"y":1.921,"y2":1.893},{"x":7720,"x2":7720,"y":1.921,"y2":1.893},{"x":7730,"x2":7730,"y":1.921,"y2":1.893},{"x":7740,"x2":7740,"y":1.921,"y2":1.893},{"x":7750,"x2":7750,"y":1.921,"y2":1.893},{"x":7760,"x2":7760,"y":1.921,"y2":1.893}],
"coHeads":[{"x":7724.24,"y":1.105,"d":"down"},{"x":7707.6,"y":0.23,"d":"left"}],
"coText":[{"t":"触媒","x":7706.47,"y":1.369,"k":"a"},{"t":"試料","x":7706.47,"y":1.216,"k":"a"},{"t":"CoO","x":7734.3,"y":1.859,"k":"a"},{"t":"Co金属","x":7734.6,"y":1.08,"k":"a"},{"t":"Co","x":7691.6,"y":1.743,"k":"t"},{"t":"-edge","x":7700.0,"y":1.743,"k":"t"},{"t":"K","x":7697.57,"y":1.743,"k":"i"}]
},
"hconcat":[
{
"width":499,"height":413,
"layer":[
{"data":{"name":"ni"},
"mark":{"type":"line","strokeWidth":1.6,"interpolate":"monotone","clip":true},
"encoding":{
"x":{"field":"x","type":"quantitative","scale":{"domain":[8312.1,8383.85],"nice":false,"zero":false},
"axis":{"values":[8320,8330,8340,8350,8360,8370,8380],"tickCount":50,"format":"d","labelOverlap":false,"labelExpr":"datum.value % 20 == 0 ? datum.label : ''","gridOpacity":{"condition":{"test":"datum.value % 20 != 0","value":0},"value":1},"tickSize":-6,"labelPadding":13,"title":"エネルギー/eV","titleX":245,"titleY":41,"titleBaseline":"middle","titleAlign":"center"}},
"y":{"field":"y","type":"quantitative","scale":{"domain":[-0.165,1.763],"nice":false,"zero":false},
"axis":{"values":[-0.1,0,0.1,0.2,0.3,0.4,0.5,0.6,0.7,0.8,0.9,1,1.1,1.2,1.3,1.4,1.5,1.6,1.7],"tickCount":50,"labelOverlap":false,"labelFlush":false,"labelBound":false,"labelExpr":"datum.value == 0 ? '0' : datum.value == 0.5 ? '0.5' : datum.value == 1 ? '1' : datum.value == 1.5 ? '1.5' : ''","gridOpacity":{"condition":{"test":"datum.value != 0 && datum.value != 0.5 && datum.value != 1 && datum.value != 1.5","value":0},"value":1},"tickSize":-5,"labelAngle":-90,"labelPadding":13,"title":"吸収強度（任意単位）","titleFont":"Noto Sans CJK JP","titleFontSize":25,"titleX":-41,"titleBaseline":"middle"}},
"color":{"field":"s","type":"nominal","legend":null,"scale":{"domain":["n1","n2","n3","n4","n5","n6","n7","n8","n9","c01","c02","c03","c04","c05","c06","c07","c08","c09","c10","c11","c12"],"range":["#3d3dff","#ff2b2b","#2e9e2e","#a83be0","#ff9a1a","#a04848","#ff4fc8","#f0d000","#33dde0","#3d3dff","#ff2b2b","#2e9e2e","#a83be0","#ff9a1a","#a04848","#ff4fc8","#e8d020","#33dde0","#b5d93a","#3d3dff","#ff2b2b"]}}
}},
{"data":{"name":"niDots"},
"mark":{"type":"square","size":5,"opacity":1},
"encoding":{"x":{"field":"x","type":"quantitative"},"y":{"field":"y","type":"quantitative"},"color":{"field":"s","type":"nominal","legend":null}}},
{"data":{"name":"niFrame"},
"mark":{"type":"rule","color":"#222","strokeWidth":1.6},
"encoding":{"x":{"field":"x","type":"quantitative"},"y":{"field":"y","type":"quantitative"},"x2":{"field":"x2"},"y2":{"field":"y2"}}},
{"data":{"name":"niRules"},
"mark":{"type":"rule","color":"#111","strokeWidth":1.3},
"encoding":{"x":{"field":"x","type":"quantitative"},"y":{"field":"y","type":"quantitative"},"x2":{"field":"x2"},"y2":{"field":"y2"}}},
{"data":{"name":"niHeads"},
"mark":{"type":"point","filled":false,"color":"#111","strokeWidth":1.4,"size":256,"opacity":1},
"encoding":{"x":{"field":"x","type":"quantitative"},"y":{"field":"y","type":"quantitative"},
"shape":{"field":"d","type":"nominal","legend":null,"scale":{"domain":["down","left"],"range":["M-0.65,-1L0,0L0.65,-1","M1,-0.65L0,0L1,0.65"]}}}},
{"data":{"name":"niText"},"transform":[{"filter":"datum.k == 'a'"}],
"mark":{"type":"text","align":"left","baseline":"middle","fontSize":25,"font":"Liberation Sans, Noto Sans CJK JP","color":"#000"},
"encoding":{"x":{"field":"x","type":"quantitative"},"y":{"field":"y","type":"quantitative"},"text":{"field":"t"}}},
{"data":{"name":"niText"},"transform":[{"filter":"datum.k == 't'"}],
"mark":{"type":"text","align":"left","baseline":"alphabetic","fontSize":25,"font":"Liberation Sans","color":"#000"},
"encoding":{"x":{"field":"x","type":"quantitative"},"y":{"field":"y","type":"quantitative"},"text":{"field":"t"}}},
{"data":{"name":"niText"},"transform":[{"filter":"datum.k == 'i'"}],
"mark":{"type":"text","align":"left","baseline":"alphabetic","fontSize":25,"fontStyle":"italic","font":"Liberation Sans","color":"#000"},
"encoding":{"x":{"field":"x","type":"quantitative"},"y":{"field":"y","type":"quantitative"},"text":{"field":"t"}}}
]
},
{
"width":499,"height":413,
"layer":[
{"data":{"name":"co"},
"mark":{"type":"line","strokeWidth":1.6,"interpolate":"monotone","clip":true},
"encoding":{
"x":{"field":"x","type":"quantitative","scale":{"domain":[7689.25,7761.05],"nice":false,"zero":false},
"axis":{"values":[7690,7700,7710,7720,7730,7740,7750,7760],"tickCount":50,"format":"d","labelOverlap":false,"labelExpr":"(datum.value % 20 == 0 && datum.value < 7750) ? datum.label : ''","gridOpacity":{"condition":{"test":"datum.value % 20 != 0","value":0},"value":1},"tickSize":-6,"labelPadding":13,"title":"エネルギー/eV","titleX":269,"titleY":41,"titleBaseline":"middle","titleAlign":"center"}},
"y":{"field":"y","type":"quantitative","scale":{"domain":[-0.182,1.921],"nice":false,"zero":false},
"axis":{"values":[-0.1,0,0.1,0.2,0.3,0.4,0.5,0.6,0.7,0.8,0.9,1,1.1,1.2,1.3,1.4,1.5,1.6,1.7,1.8,1.9],"tickCount":50,"labelOverlap":false,"labelFlush":false,"labelBound":false,"labelExpr":"datum.value == 0 ? '0' : datum.value == 0.5 ? '0.5' : datum.value == 1 ? '1' : datum.value == 1.5 ? '1.5' : ''","gridOpacity":{"condition":{"test":"datum.value != 0 && datum.value != 0.5 && datum.value != 1 && datum.value != 1.5","value":0},"value":1},"tickSize":-5,"labelAngle":-90,"labelPadding":17,"title":"吸収強度（任意単位）","titleFont":"Noto Sans CJK JP","titleFontSize":25,"titleX":-54,"titleBaseline":"middle"}},
"color":{"field":"s","type":"nominal","legend":null,"scale":{"domain":["n1","n2","n3","n4","n5","n6","n7","n8","n9","c01","c02","c03","c04","c05","c06","c07","c08","c09","c10","c11","c12"],"range":["#3d3dff","#ff2b2b","#2e9e2e","#a83be0","#ff9a1a","#a04848","#ff4fc8","#f0d000","#33dde0","#3d3dff","#ff2b2b","#2e9e2e","#a83be0","#ff9a1a","#a04848","#ff4fc8","#e8d020","#33dde0","#b5d93a","#3d3dff","#ff2b2b"]}}
}},
{"data":{"name":"coDots"},
"mark":{"type":"square","size":5,"opacity":1},
"encoding":{"x":{"field":"x","type":"quantitative"},"y":{"field":"y","type":"quantitative"},"color":{"field":"s","type":"nominal","legend":null}}},
{"data":{"name":"coFrame"},
"mark":{"type":"rule","color":"#222","strokeWidth":1.6},
"encoding":{"x":{"field":"x","type":"quantitative"},"y":{"field":"y","type":"quantitative"},"x2":{"field":"x2"},"y2":{"field":"y2"}}},
{"data":{"name":"coRules"},
"mark":{"type":"rule","color":"#111","strokeWidth":1.3},
"encoding":{"x":{"field":"x","type":"quantitative"},"y":{"field":"y","type":"quantitative"},"x2":{"field":"x2"},"y2":{"field":"y2"}}},
{"data":{"name":"coHeads"},
"mark":{"type":"point","filled":false,"color":"#111","strokeWidth":1.4,"size":256,"opacity":1},
"encoding":{"x":{"field":"x","type":"quantitative"},"y":{"field":"y","type":"quantitative"},
"shape":{"field":"d","type":"nominal","legend":null,"scale":{"domain":["down","left"],"range":["M-0.65,-1L0,0L0.65,-1","M1,-0.65L0,0L1,0.65"]}}}},
{"data":{"name":"coText"},"transform":[{"filter":"datum.k == 'a'"}],
"mark":{"type":"text","align":"left","baseline":"middle","fontSize":25,"font":"Liberation Sans, Noto Sans CJK JP","color":"#000"},
"encoding":{"x":{"field":"x","type":"quantitative"},"y":{"field":"y","type":"quantitative"},"text":{"field":"t"}}},
{"data":{"name":"coText"},"transform":[{"filter":"datum.k == 't'"}],
"mark":{"type":"text","align":"left","baseline":"alphabetic","fontSize":25,"font":"Liberation Sans","color":"#000"},
"encoding":{"x":{"field":"x","type":"quantitative"},"y":{"field":"y","type":"quantitative"},"text":{"field":"t"}}},
{"data":{"name":"coText"},"transform":[{"filter":"datum.k == 'i'"}],
"mark":{"type":"text","align":"left","baseline":"alphabetic","fontSize":25,"fontStyle":"italic","font":"Liberation Sans","color":"#000"},
"encoding":{"x":{"field":"x","type":"quantitative"},"y":{"field":"y","type":"quantitative"},"text":{"field":"t"}}}
]
}
]
}
